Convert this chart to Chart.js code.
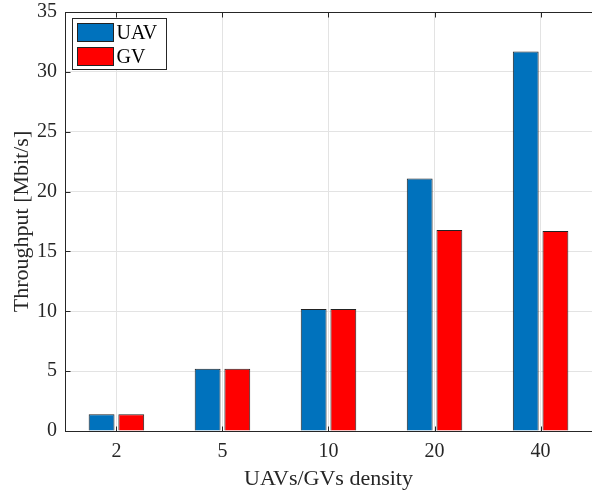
<!DOCTYPE html>
<html>
<head>
<meta charset="utf-8">
<script src="https://cdn.jsdelivr.net/npm/chart.js@4.4.0/dist/chart.umd.min.js"></script>
<style>
    html, body { margin: 0; padding: 0; background: #fff; overflow: hidden; }
    canvas { display: block; }
</style>
</head>
<body>
<canvas id="chart" width="592" height="494"></canvas>
<script>
// Data
const densities = ['2', '5', '10', '20', '40'];
const uavThroughput = [1.4, 5.2, 10.2, 21.1, 31.7];
const gvThroughput = [1.4, 5.2, 10.2, 16.8, 16.7];
const yTicks = [0, 5, 10, 15, 20, 25, 30, 35];

const AXIS = '#262626';
const GRID = '#e3e3e3';
const FONT = "'Liberation Serif', 'Times New Roman', serif";

// Box around the plot with MATLAB-style inward ticks
const boxPlugin = {
    id: 'box',
    afterDatasetsDraw(chart) {
        const { ctx, chartArea: a, scales } = chart;
        const L = Math.round(a.left) + 0.5, R = Math.round(a.right) + 0.5;
        const T = Math.round(a.top) + 0.5, B = Math.round(a.bottom) + 0.5;
        ctx.save();
        ctx.strokeStyle = AXIS;
        ctx.lineWidth = 1;
        ctx.strokeRect(L, T, R - L, B - T);
        ctx.beginPath();
        scales.y.ticks.forEach((t, i) => {
            const y = Math.round(scales.y.getPixelForTick(i)) + 0.5;
            ctx.moveTo(L, y); ctx.lineTo(L + 5, y);
        });
        scales.x.ticks.forEach((t, i) => {
            const x = Math.round(scales.x.getPixelForTick(i)) + 0.5;
            ctx.moveTo(x, B); ctx.lineTo(x, B - 5);
            ctx.moveTo(x, T); ctx.lineTo(x, T + 5);
        });
        ctx.stroke();
        ctx.restore();
    }
};

// Legend drawn inside the axes, top-left
const innerLegend = {
    id: 'innerLegend',
    afterDraw(chart) {
        const { ctx, chartArea: a } = chart;
        const x0 = Math.round(a.left) + 7.5, y0 = Math.round(a.top) + 6.5;
        ctx.save();
        ctx.fillStyle = '#fff';
        ctx.fillRect(x0, y0, 94, 51);
        ctx.strokeStyle = AXIS;
        ctx.lineWidth = 1;
        ctx.strokeRect(x0, y0, 94, 51);
        ctx.font = '20px ' + FONT;
        ctx.textBaseline = 'middle';
        chart.data.datasets.forEach((ds, i) => {
            const sy = y0 + 5 + i * 24;
            ctx.fillStyle = ds.backgroundColor;
            ctx.fillRect(x0 + 5, sy, 36, 18);
            ctx.strokeStyle = '#222';
            ctx.strokeRect(x0 + 5, sy, 36, 18);
            ctx.fillStyle = '#000';
            ctx.fillText(ds.label, x0 + 44, sy + 10);
        });
        ctx.restore();
    }
};

const toPoints = vals => vals.map((v, i) => ({ x: i + 1, y: v }));

new Chart(document.getElementById('chart'), {
    type: 'bar',
    data: {
        datasets: [
            {
                label: 'UAV',
                data: toPoints(uavThroughput),
                backgroundColor: '#0072BD',
                borderColor: '#222',
                borderWidth: 1,
                categoryPercentage: 0.56,
                barPercentage: 0.87
            },
            {
                label: 'GV',
                data: toPoints(gvThroughput),
                backgroundColor: '#FF0000',
                borderColor: '#222',
                borderWidth: 1,
                categoryPercentage: 0.56,
                barPercentage: 0.87
            }
        ]
    },
    options: {
        responsive: false,
        animation: false,
        devicePixelRatio: 1,
        // plot box runs past the right edge of the picture, as in the reference
        layout: { padding: { top: 12, right: -7.3, left: 0, bottom: 0 } },
        plugins: {
            legend: { display: false },
            tooltip: { enabled: false }
        },
        scales: {
            x: {
                type: 'linear',
                offset: false,
                min: 0.515,
                max: 5.485,
                afterBuildTicks: s => { s.ticks = densities.map((d, i) => ({ value: i + 1 })); },
                afterFit: s => { s.height = 63; },
                grid: { color: GRID, drawTicks: false, offset: false },
                border: { display: false },
                ticks: {
                    padding: 9,
                    color: AXIS,
                    maxRotation: 0,
                    font: { family: FONT, size: 20 },
                    callback: v => densities[Math.round(v) - 1]
                },
                title: {
                    display: true,
                    text: 'UAVs/GVs density',
                    color: AXIS,
                    font: { family: FONT, size: 22 },
                    padding: { top: 0, bottom: 2 }
                }
            },
            y: {
                min: 0,
                max: 35,
                afterBuildTicks: s => { s.ticks = yTicks.map(v => ({ value: v })); },
                afterFit: s => { s.width = 65; s.paddingTop = 0; s.paddingBottom = 0; },
                grid: { color: GRID, drawTicks: false },
                border: { display: false },
                ticks: {
                    padding: 8,
                    color: AXIS,
                    font: { family: FONT, size: 20 }
                },
                title: {
                    display: true,
                    text: 'Throughput [Mbit/s]',
                    color: AXIS,
                    font: { family: FONT, size: 22 },
                    padding: { top: 9, bottom: 0 }
                }
            }
        }
    },
    plugins: [boxPlugin, innerLegend]
});
</script>
</body>
</html>
